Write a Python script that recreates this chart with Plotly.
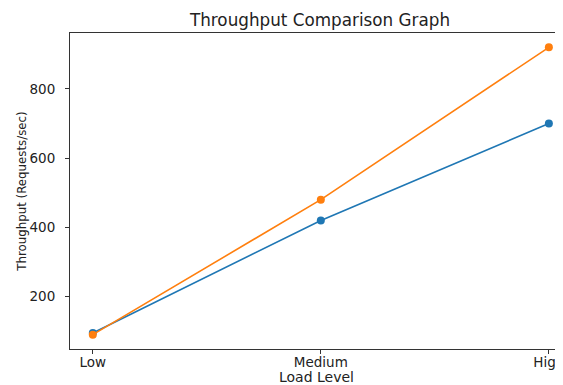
import plotly.graph_objects as go

load_levels = ["Low", "Medium", "High"]
series_a = [95, 420, 700]
series_b = [90, 480, 920]
y_ticks = [200, 400, 600, 800]

x_pos = list(range(len(load_levels)))
all_vals = series_a + series_b
lo, hi = min(all_vals), max(all_vals)
pad = 0.05 * (hi - lo)

# page body has an 8px margin; size the figure so the plot area lands where the reference has it
W, H = 555, 377

fig = go.Figure()
for vals, color in [(series_a, "#1f77b4"), (series_b, "#ff7f0e")]:
    fig.add_trace(go.Scatter(
        x=x_pos, y=vals, mode="lines+markers",
        line=dict(color=color, width=1.6),
        marker=dict(color=color, size=8),
        showlegend=False, cliponaxis=False,
    ))

fig.update_layout(
    width=W, height=H,
    margin=dict(l=62, r=0, t=25, b=36, autoexpand=False),
    paper_bgcolor="white", plot_bgcolor="white",
    font=dict(family="DejaVu Sans", size=13.5, color="#222"),
    title=dict(text="Throughput Comparison Graph", x=312 / W, xanchor="center",
               y=1 - 12 / H, yanchor="middle",
               font=dict(size=16.8, color="#222"), automargin=False),
)
fig.update_xaxes(
    tickmode="array", tickvals=x_pos, ticktext=load_levels,
    range=[-0.1, 2.062], automargin=False, ticklabeloverflow="allow",
    ticklabelstandoff=-3,
    showgrid=False, zeroline=False,
    showline=True, linecolor="#333", linewidth=1, mirror=True,
    ticks="outside", ticklen=4, tickcolor="#333",
    title=dict(text="Load Level", font=dict(size=14), standoff=3),
)
fig.update_yaxes(
    tickmode="array", tickvals=y_ticks,
    range=[lo - pad, hi + pad], automargin=False, ticklabelstandoff=7,
    showgrid=False, zeroline=False,
    showline=True, linecolor="#333", linewidth=1,
    ticks="outside", ticklen=4, tickcolor="#333",
    title=dict(text="Throughput (Requests/sec)", font=dict(size=11.8), standoff=0),
)
fig.write_html("out.html")
